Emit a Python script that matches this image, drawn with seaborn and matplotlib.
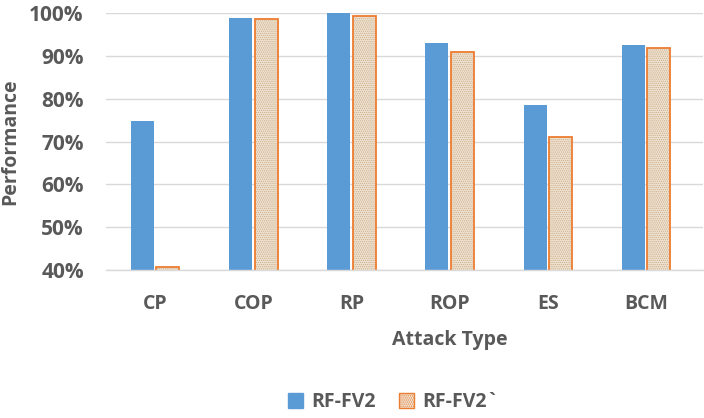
import matplotlib
matplotlib.use("Agg")
import matplotlib.pyplot as plt
from matplotlib.patches import Patch, Rectangle
from matplotlib.ticker import PercentFormatter
import seaborn as sns
import pandas as pd

categories = ["CP", "COP", "RP", "ROP", "ES", "BCM"]
series_names = ["RF-FV2", "RF-FV2`"]
rf_fv2 = [74.9, 98.9, 100.0, 92.9, 78.6, 92.5]
rf_fv2_prime = [40.6, 98.5, 99.3, 90.9, 71.1, 91.9]
y_ticks = [40, 50, 60, 70, 80, 90, 100]

df = pd.DataFrame({
    "Attack Type": categories * 2,
    "Performance": rf_fv2 + rf_fv2_prime,
    "Series": [series_names[0]] * len(categories) + [series_names[1]] * len(categories),
})

sns.set_theme(style="white")
plt.rcParams["font.family"] = ["Open Sans", "DejaVu Sans"]
plt.rcParams["hatch.linewidth"] = 0.6
TXT = "#595959"
BLUE = "#5B9BD5"
ORANGE = "#ED7D31"
FILL = "#EEE2D2"
HATCH = "#CDAE88"

fig = plt.figure(figsize=(7.04, 4.18), dpi=100)
ax = fig.add_axes([106 / 704, 1 - 270 / 418, (703 - 106) / 704, (270 - 13) / 418])

sns.barplot(data=df, x="Attack Type", y="Performance", hue="Series",
            palette=[BLUE, FILL], width=0.52, gap=0.1, ax=ax,
            legend=False, saturation=1, linewidth=0)

n = len(categories)
for i, p in enumerate(ax.patches):
    if i >= n:
        x, y = p.get_xy()
        w, h = p.get_width(), p.get_height()
        ax.add_patch(Rectangle((x, y), w, h, facecolor="none", edgecolor=HATCH,
                               hatch="........", linewidth=0, zorder=p.get_zorder() + 0.1))
        ax.add_patch(Rectangle((x, y), w, h, facecolor="none", edgecolor=ORANGE,
                               linewidth=1.3, zorder=p.get_zorder() + 0.2))

ax.set_ylim(40, 100)
ax.set_xlim(-0.5, 5.58)
ax.set_yticks(y_ticks)
ax.yaxis.set_major_formatter(PercentFormatter(decimals=0))
ax.grid(axis="y", color="#D9D9D9", linewidth=1)
ax.set_axisbelow(True)
for s in ["top", "right", "left"]:
    ax.spines[s].set_visible(False)
ax.spines["bottom"].set_color("#D9D9D9")
ax.spines["bottom"].set_linewidth(1)
ax.tick_params(axis="both", length=0, labelcolor=TXT)
ax.tick_params(axis="x", pad=17, labelsize=14)
ax.tick_params(axis="y", pad=16, labelsize=15)
for lab in ax.get_xticklabels() + ax.get_yticklabels():
    lab.set_fontweight("bold")

ax.set_xlabel("Attack Type", fontsize=14, fontweight="bold", color=TXT)
ax.xaxis.set_label_coords((450 - 106) / 597, -(330 - 270) / 257)
ax.set_ylabel("Performance", fontsize=14, fontweight="bold", color=TXT)
ax.yaxis.set_label_coords(-(106 - 20) / 597, 0.5)

handles = [
    Patch(facecolor=BLUE, edgecolor=BLUE, label=series_names[0]),
    Patch(facecolor=FILL, edgecolor=ORANGE, hatch="........", label=series_names[1]),
]
leg = fig.legend(handles=handles, loc="center", bbox_to_anchor=(393 / 704, 1 - 402 / 418),
                 ncol=2, frameon=False, handlelength=0.8, handleheight=0.8,
                 handletextpad=0.4, columnspacing=1.2,
                 prop={"size": 14, "weight": "bold"})
for t in leg.get_texts():
    t.set_color(TXT)

fig.savefig("out.png", dpi=100)
